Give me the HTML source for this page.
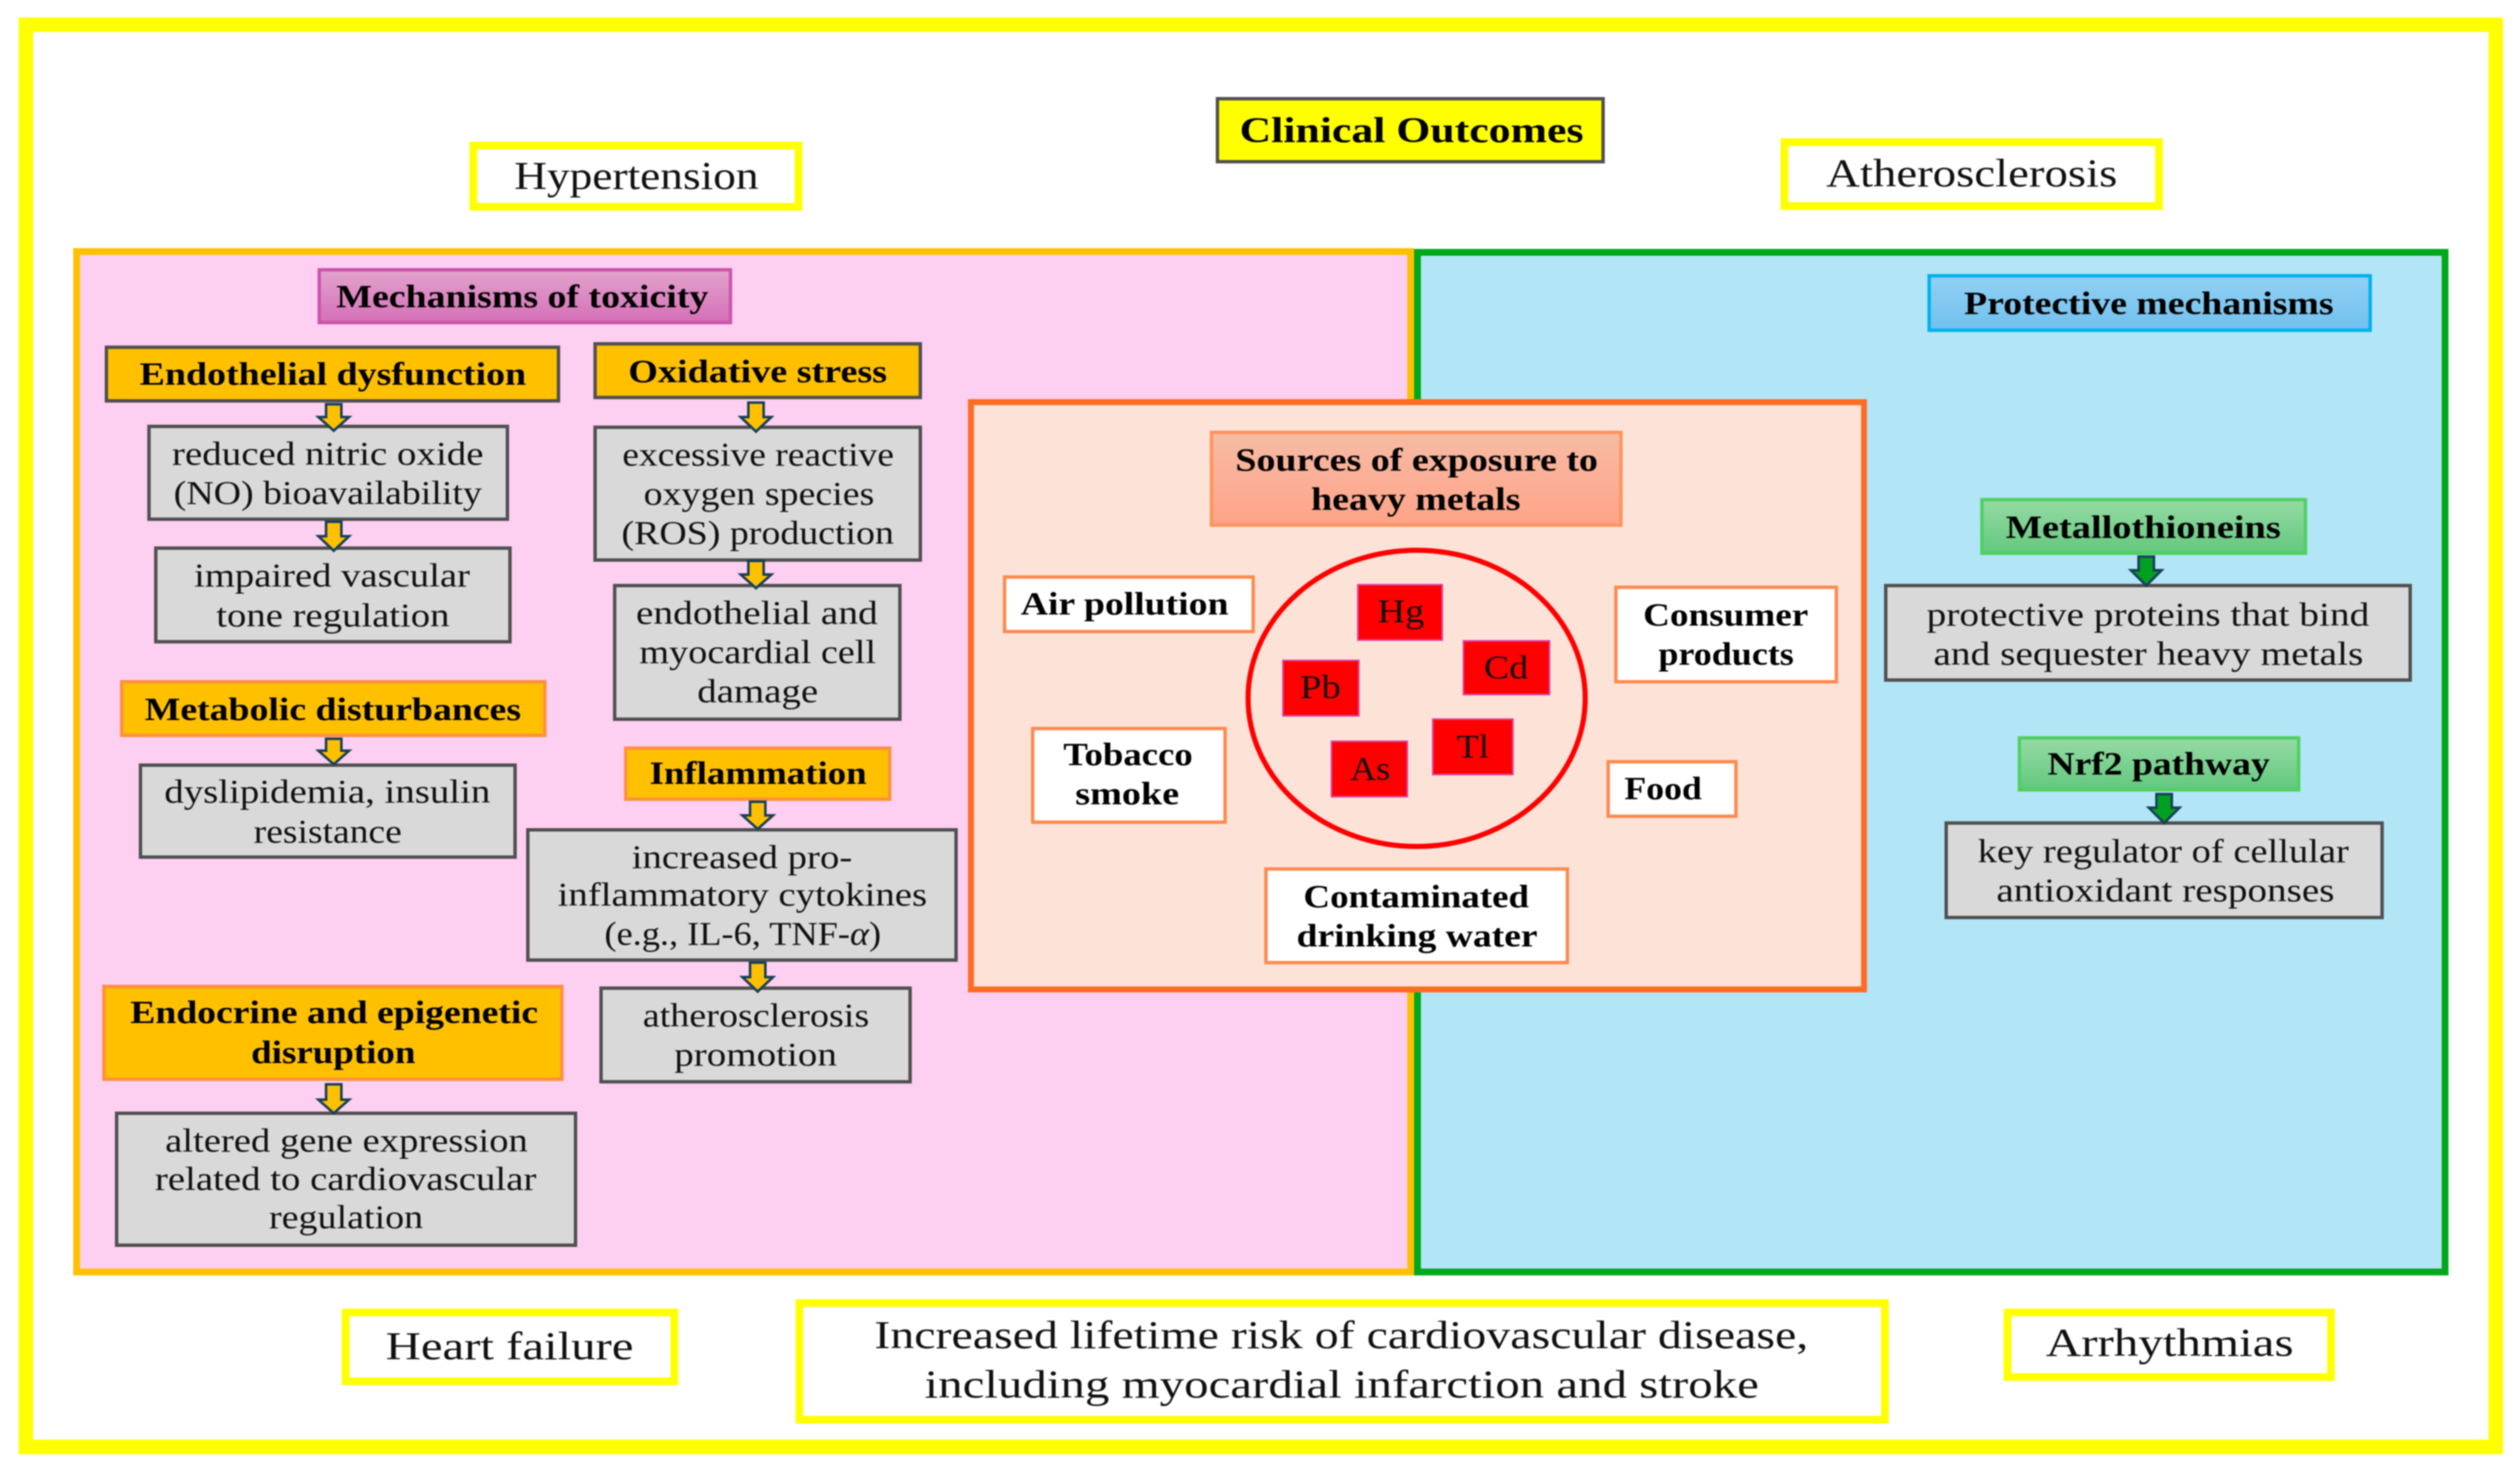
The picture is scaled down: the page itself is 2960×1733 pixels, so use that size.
<!DOCTYPE html>
<html><head><meta charset="utf-8"><style>
html,body{margin:0;padding:0;background:#fff;width:2960px;height:1733px;overflow:hidden}
svg{display:block;filter:blur(.7px)}
text{font-family:"Liberation Serif",serif;fill:#111;font-size:39px}
.b{font-weight:bold;font-size:38px;fill:#000}
.l{font-size:47px}
.g{fill:#d9d9d9;stroke:#505050;stroke-width:4}
.o{fill:#ffc000;stroke:#505050;stroke-width:4}
.o2{fill:#ffc000;stroke:#ff9040;stroke-width:4}
.y{fill:#fff;stroke:#ffff00;stroke-width:9}
.w{fill:#fff;stroke:#ff8a50;stroke-width:4}
.r{fill:#ff0000;stroke:#e040a0;stroke-width:2}
.ao{fill:#ffc000;stroke:#17405a;stroke-width:3}
.ag{fill:#00a020;stroke:#17405a;stroke-width:3}
</style></head><body>
<svg width="2960" height="1733" viewBox="0 0 2960 1733" xmlns="http://www.w3.org/2000/svg">
<defs>
<linearGradient id="gm" x1="0" y1="0" x2="0" y2="1"><stop offset="0" stop-color="#e3a3ce"/><stop offset="1" stop-color="#d46fb6"/></linearGradient>
<linearGradient id="gs" x1="0" y1="0" x2="0" y2="1"><stop offset="0" stop-color="#f6bba4"/><stop offset="1" stop-color="#ffa388"/></linearGradient>
<linearGradient id="gb" x1="0" y1="0" x2="0" y2="1"><stop offset="0" stop-color="#92d0f3"/><stop offset="1" stop-color="#70c0ee"/></linearGradient>
<linearGradient id="gg" x1="0" y1="0" x2="0" y2="1"><stop offset="0" stop-color="#96daa6"/><stop offset="1" stop-color="#62c87c"/></linearGradient>
</defs>
<rect width="2960" height="1733" fill="#fff"/>
<!-- outer frame -->
<rect x="30.5" y="29" width="2901" height="1671" fill="#fff" stroke="#ffff00" stroke-width="17"/>
<!-- panels -->
<rect x="90" y="295.5" width="1567" height="1199" fill="#fdcff1" stroke="#ffc000" stroke-width="8"/>
<rect x="1665" y="296.5" width="1207" height="1198" fill="#b2e5f6" stroke="#00a81c" stroke-width="8"/>
<!-- top / bottom outcome boxes -->
<rect x="1430" y="116" width="453" height="74" fill="#ffff00" stroke="#505050" stroke-width="4"/>
<text class="b" x="1456" y="167" textLength="404" lengthAdjust="spacingAndGlyphs" style="font-size:42px">Clinical Outcomes</text>
<rect class="y" x="556" y="171" width="382" height="72"/>
<text class="l" x="604" y="222" textLength="287" lengthAdjust="spacingAndGlyphs">Hypertension</text>
<rect class="y" x="2096" y="167" width="440" height="75"/>
<text class="l" x="2145" y="219" textLength="342" lengthAdjust="spacingAndGlyphs">Atherosclerosis</text>
<rect class="y" x="406" y="1542" width="386" height="81"/>
<text class="l" x="453" y="1597" textLength="291" lengthAdjust="spacingAndGlyphs">Heart failure</text>
<rect class="y" x="939" y="1531" width="1275" height="137"/>
<text class="l" x="1027" y="1584" textLength="1097" lengthAdjust="spacingAndGlyphs">Increased lifetime risk of cardiovascular disease,</text>
<text class="l" x="1086" y="1642" textLength="980" lengthAdjust="spacingAndGlyphs">including myocardial infarction and stroke</text>
<rect class="y" x="2358" y="1542" width="380" height="76"/>
<text class="l" x="2403" y="1593" textLength="291" lengthAdjust="spacingAndGlyphs">Arrhythmias</text>
<!-- left column -->
<rect x="375" y="317" width="483" height="62" fill="url(#gm)" stroke="#cc55aa" stroke-width="4"/>
<text class="b" x="395" y="361" textLength="437" lengthAdjust="spacingAndGlyphs">Mechanisms of toxicity</text>
<rect class="o" x="125" y="408" width="531" height="63"/>
<text class="b" x="164" y="452" textLength="454" lengthAdjust="spacingAndGlyphs">Endothelial dysfunction</text>
<rect class="o" x="699" y="404" width="382" height="63"/>
<text class="b" x="738" y="449" textLength="304" lengthAdjust="spacingAndGlyphs">Oxidative stress</text>
<rect class="g" x="175" y="501" width="421" height="109"/>
<text x="202" y="546" textLength="366" lengthAdjust="spacingAndGlyphs">reduced nitric oxide</text>
<text x="204" y="592" textLength="362" lengthAdjust="spacingAndGlyphs">(NO) bioavailability</text>
<rect class="g" x="183" y="644" width="416" height="110"/>
<text x="228" y="689" textLength="324" lengthAdjust="spacingAndGlyphs">impaired vascular</text>
<text x="254" y="736" textLength="274" lengthAdjust="spacingAndGlyphs">tone regulation</text>
<rect class="g" x="699" y="502" width="382" height="156"/>
<text x="731" y="547" textLength="319" lengthAdjust="spacingAndGlyphs">excessive reactive</text>
<text x="756" y="593" textLength="271" lengthAdjust="spacingAndGlyphs">oxygen species</text>
<text x="730" y="639" textLength="320" lengthAdjust="spacingAndGlyphs">(ROS) production</text>
<rect class="g" x="722" y="688" width="335" height="157"/>
<text x="747" y="733" textLength="284" lengthAdjust="spacingAndGlyphs">endothelial and</text>
<text x="751" y="779" textLength="278" lengthAdjust="spacingAndGlyphs">myocardial cell</text>
<text x="819" y="825" textLength="142" lengthAdjust="spacingAndGlyphs">damage</text>
<rect class="o2" x="143" y="801" width="497" height="63"/>
<text class="b" x="170" y="846" textLength="442" lengthAdjust="spacingAndGlyphs">Metabolic disturbances</text>
<rect class="g" x="165" y="899" width="440" height="108"/>
<text x="193" y="943" textLength="383" lengthAdjust="spacingAndGlyphs">dyslipidemia, insulin</text>
<text x="298" y="990" textLength="174" lengthAdjust="spacingAndGlyphs">resistance</text>
<rect class="o2" x="735" y="879" width="310" height="60"/>
<text class="b" x="763" y="921" textLength="255" lengthAdjust="spacingAndGlyphs">Inflammation</text>
<rect class="g" x="620" y="975" width="503" height="153"/>
<text x="742" y="1020" textLength="259" lengthAdjust="spacingAndGlyphs">increased pro-</text>
<text x="655" y="1064" textLength="434" lengthAdjust="spacingAndGlyphs">inflammatory cytokines</text>
<text x="710" y="1110" textLength="325" lengthAdjust="spacingAndGlyphs">(e.g., IL-6, TNF-<tspan font-style="italic">α</tspan>)</text>
<rect class="o2" x="122" y="1159" width="538" height="109"/>
<text class="b" x="153" y="1202" textLength="479" lengthAdjust="spacingAndGlyphs">Endocrine and epigenetic</text>
<text class="b" x="295" y="1249" textLength="193" lengthAdjust="spacingAndGlyphs">disruption</text>
<rect class="g" x="706" y="1161" width="363" height="110"/>
<text x="755" y="1206" textLength="266" lengthAdjust="spacingAndGlyphs">atherosclerosis</text>
<text x="792" y="1252" textLength="191" lengthAdjust="spacingAndGlyphs">promotion</text>
<rect class="g" x="137" y="1308" width="539" height="155"/>
<text x="194" y="1353" textLength="426" lengthAdjust="spacingAndGlyphs">altered gene expression</text>
<text x="182" y="1398" textLength="448" lengthAdjust="spacingAndGlyphs">related to cardiovascular</text>
<text x="316" y="1443" textLength="181" lengthAdjust="spacingAndGlyphs">regulation</text>
<!-- orange arrows -->
<polygon class="ao" points="383,475 401,475 401,490 410,490 392,506 374,490 383,490"/>
<polygon class="ao" points="383,613 401,613 401,630 410,630 392,647 374,630 383,630"/>
<polygon class="ao" points="383,868 401,868 401,882 410,882 392,898 374,882 383,882"/>
<polygon class="ao" points="383,1274 401,1274 401,1292 410,1292 392,1308 374,1292 383,1292"/>
<polygon class="ao" points="879,473 897,473 897,490 906,490 888,507 870,490 879,490"/>
<polygon class="ao" points="879,659 897,659 897,675 906,675 888,691 870,675 879,675"/>
<polygon class="ao" points="881,942 899,942 899,958 908,958 890,974 872,958 881,958"/>
<polygon class="ao" points="881,1131 899,1131 899,1148 908,1148 890,1165 872,1148 881,1148"/>
<!-- center box -->
<rect x="1140.5" y="472.5" width="1049" height="690" fill="#fde3d7" stroke="#ff6c24" stroke-width="7"/>
<rect x="1423" y="508" width="481" height="109" fill="url(#gs)" stroke="#ff9460" stroke-width="4"/>
<text class="b" x="1451" y="553" textLength="426" lengthAdjust="spacingAndGlyphs">Sources of exposure to</text>
<text class="b" x="1540" y="599" textLength="246" lengthAdjust="spacingAndGlyphs">heavy metals</text>
<ellipse cx="1664" cy="820.5" rx="198" ry="174" fill="#fde3d7" stroke="#ff0000" stroke-width="6"/>
<rect class="w" x="1180" y="678" width="292" height="64"/>
<text class="b" x="1199" y="722" textLength="244" lengthAdjust="spacingAndGlyphs">Air pollution</text>
<rect class="w" x="1898" y="690" width="259" height="111"/>
<text class="b" x="1930" y="735" textLength="194" lengthAdjust="spacingAndGlyphs">Consumer</text>
<text class="b" x="1948" y="781" textLength="159" lengthAdjust="spacingAndGlyphs">products</text>
<rect class="w" x="1213" y="856" width="226" height="110"/>
<text class="b" x="1249" y="899" textLength="152" lengthAdjust="spacingAndGlyphs">Tobacco</text>
<text class="b" x="1263" y="945" textLength="122" lengthAdjust="spacingAndGlyphs">smoke</text>
<rect class="w" x="1889" y="895" width="150" height="64"/>
<text class="b" x="1908" y="939" textLength="91" lengthAdjust="spacingAndGlyphs">Food</text>
<rect class="w" x="1487" y="1021" width="354" height="110"/>
<text class="b" x="1531" y="1066" textLength="265" lengthAdjust="spacingAndGlyphs">Contaminated</text>
<text class="b" x="1523" y="1112" textLength="283" lengthAdjust="spacingAndGlyphs">drinking water</text>
<rect class="r" x="1595" y="687" width="99" height="65"/>
<text x="1618" y="731" textLength="55" lengthAdjust="spacingAndGlyphs">Hg</text>
<rect class="r" x="1719" y="753" width="101" height="63"/>
<text x="1743" y="797" textLength="52" lengthAdjust="spacingAndGlyphs">Cd</text>
<rect class="r" x="1507" y="776" width="89" height="65"/>
<text x="1527" y="820" textLength="48" lengthAdjust="spacingAndGlyphs">Pb</text>
<rect class="r" x="1683" y="845" width="94" height="65"/>
<text x="1711" y="890" textLength="38" lengthAdjust="spacingAndGlyphs">Tl</text>
<rect class="r" x="1564" y="871" width="89" height="65"/>
<text x="1586" y="916" textLength="47" lengthAdjust="spacingAndGlyphs">As</text>
<!-- right column -->
<rect x="2266" y="324" width="518" height="64" fill="url(#gb)" stroke="#00b0f0" stroke-width="4"/>
<text class="b" x="2307" y="369" textLength="434" lengthAdjust="spacingAndGlyphs">Protective mechanisms</text>
<rect x="2328" y="587" width="380" height="63" fill="url(#gg)" stroke="#50d060" stroke-width="4"/>
<text class="b" x="2356" y="632" textLength="323" lengthAdjust="spacingAndGlyphs">Metallothioneins</text>
<rect class="g" x="2215" y="688" width="616" height="111"/>
<text x="2263" y="735" textLength="520" lengthAdjust="spacingAndGlyphs">protective proteins that bind</text>
<text x="2271" y="781" textLength="505" lengthAdjust="spacingAndGlyphs">and sequester heavy metals</text>
<rect x="2372" y="867" width="328" height="61" fill="url(#gg)" stroke="#50d060" stroke-width="4"/>
<text class="b" x="2405" y="910" textLength="261" lengthAdjust="spacingAndGlyphs">Nrf2 pathway</text>
<rect class="g" x="2286" y="967" width="512" height="111"/>
<text x="2323" y="1013" textLength="436" lengthAdjust="spacingAndGlyphs">key regulator of cellular</text>
<text x="2345" y="1059" textLength="397" lengthAdjust="spacingAndGlyphs">antioxidant responses</text>
<polygon class="ag" points="2512,654 2530,654 2530,670 2539,670 2521,688 2503,670 2512,670"/>
<polygon class="ag" points="2533,933 2551,933 2551,949 2560,949 2542,967 2524,949 2533,949"/>
</svg>
</body></html>
